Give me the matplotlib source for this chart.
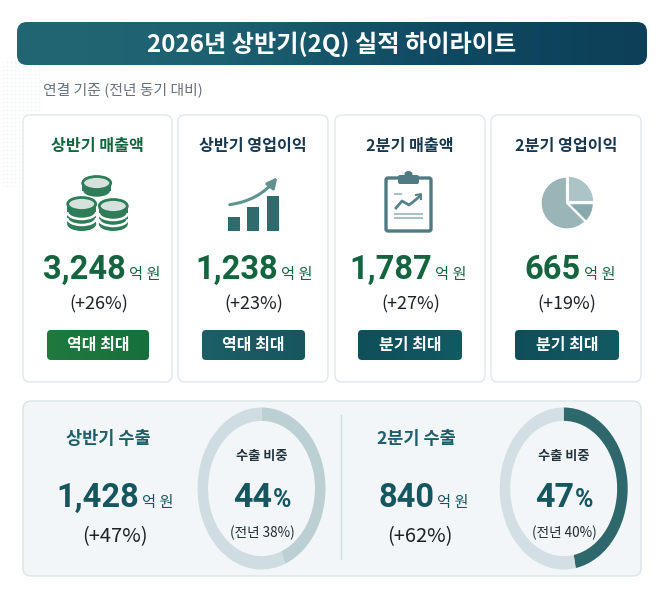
"""2026 first half (2Q) results highlight card"""
import numpy as np
from matplotlib import pyplot as plt
from matplotlib.colors import LinearSegmentedColormap
from matplotlib.patches import Arc, Ellipse, FancyArrowPatch, FancyBboxPatch, Rectangle

plt.rcParams['font.family'] = ['Noto Sans CJK KR', 'DejaVu Sans']

W, H = 662, 597

TITLE = '2026년 상반기(2Q) 실적 하이라이트'
SUBTITLE = '연결 기준 (전년 동기 대비)'
UNIT = '억 원'

card_titles = ['상반기 매출액', '상반기 영업이익', '2분기 매출액', '2분기 영업이익']
card_values = ['3,248', '1,238', '1,787', '665']
card_growth = ['(+26%)', '(+23%)', '(+27%)', '(+19%)']
card_badges = ['역대 최대', '역대 최대', '분기 최대', '분기 최대']

export_titles = ['상반기 수출', '2분기 수출']
export_values = ['1,428', '840']
export_growth = ['(+47%)', '(+62%)']
export_share = [44, 47]
export_share_prev = ['(전년 38%)', '(전년 40%)']

icon_bars = [14, 24, 35]
icon_pie = [25, 12.5, 62.5]

GREEN = '#14653f'
NAVY = '#17384f'
TEAL = '#17565f'
NUM_FONT = ['Roboto', 'Noto Sans CJK KR']


def box(ax, x0, y0, x1, y1, rad, **kw):
    p = FancyBboxPatch((x0 + rad, y0 + rad), x1 - x0 - 2 * rad, y1 - y0 - 2 * rad,
                       boxstyle='round,pad=%f,rounding_size=%f' % (rad, rad), **kw)
    ax.add_patch(p)
    return p


def gradient_box(ax, x0, y0, x1, y1, rad, colors):
    p = box(ax, x0, y0, x1, y1, rad, facecolor='none', edgecolor='none')
    cmap = LinearSegmentedColormap.from_list('bar', colors)
    im = ax.imshow(np.linspace(0, 1, 256).reshape(1, -1), extent=(x0, x1, y1, y0),
                   cmap=cmap, aspect='auto', zorder=1.5)
    im.set_clip_path(p)


def value_text(ax, right, base, value, color, size=23.5, unit_size=11):
    ax.text(right, base, value, ha='right', va='baseline', fontsize=size, fontweight='bold',
            color=color, family=NUM_FONT, zorder=3)
    ax.text(right + 3, base, UNIT, ha='left', va='baseline', fontsize=unit_size,
            fontweight='medium', color=color, zorder=3)


def coins(ax, cx, top, bottom, bands, z):
    green = '#2f7d58'
    rx, ry = 14.5, 7
    for pad, color in ((1.8, 'white'), (0, green)):
        ax.add_patch(Rectangle((cx - rx - pad, top), 2 * (rx + pad), bottom - top, facecolor=color,
                               edgecolor='none', zorder=z))
        ax.add_patch(Ellipse((cx, bottom), 2 * (rx + pad), 2 * (ry + pad), facecolor=color,
                             edgecolor='none', zorder=z))
    for y in bands:
        ax.add_patch(Arc((cx, y), 2 * rx, 2 * ry, theta1=0, theta2=180, edgecolor='white',
                         linewidth=1.8, zorder=z))
    ax.add_patch(Ellipse((cx, top), 2 * rx - 1, 2 * ry - 1, facecolor='#d5e2dc', edgecolor=green,
                         linewidth=2, zorder=z))


def clipboard(ax):
    c = '#4f7c84'
    box(ax, 386, 178, 431, 231, 2, facecolor='white', edgecolor=c, linewidth=2.4, zorder=3)
    box(ax, 398, 175, 419, 184, 2, facecolor=c, edgecolor='none', zorder=4)
    ax.add_patch(Ellipse((408.5, 174), 8, 6, facecolor=c, edgecolor='none', zorder=3))
    ax.plot([396, 402, 409, 413, 420], [208, 201, 205, 202, 196], color='#55838a', lw=2, zorder=4)
    ax.plot([416, 421, 421], [195, 194, 199], color='#55838a', lw=1.5, zorder=4)
    for y in (214, 218):
        ax.plot([395, 403], [y, y], color='#a9c1c4', lw=1.5, zorder=4)
        ax.plot([405, 422], [y, y], color='#a9c1c4', lw=1.5, zorder=4)
    ax.plot([395, 401], [194, 194], color='#a9c1c4', lw=1.5, zorder=4)


def ring(fig, cx, cy, rx, ry, share, colors):
    a = fig.add_axes([(cx - rx) / W, 1 - (cy + ry) / H, 2 * rx / W, 2 * ry / H])
    a.patch.set_alpha(0)
    a.pie([share, 100 - share], colors=colors, startangle=90, counterclock=False,
          radius=1, wedgeprops=dict(width=0.165, linewidth=0))
    a.set_aspect('auto')
    a.set_xlim(-1, 1)
    a.set_ylim(-1, 1)
    a.set_axis_off()


fig = plt.figure(figsize=(W / 100, H / 100), dpi=100, facecolor='white')
ax = fig.add_axes([0, 0, 1, 1])
ax.patch.set_alpha(0)

# faint dotted texture at the left
gx, gy = np.meshgrid(np.arange(3, 42, 4), np.arange(62, 190, 4))
ax.scatter(gx, gy, s=1.5, color='#e6ecee', linewidths=0, alpha=0.55, zorder=0.5)

# title bar
gradient_box(ax, 17, 22, 647, 65, 10, ['#236673', '#1d6070', '#0f4a62', '#0d3f58'])
ax.text(332, 44.5, TITLE, ha='center', va='center', fontsize=17.4, fontweight='bold', color='white', zorder=3)
ax.text(43, 90, SUBTITLE, ha='left', va='center', fontsize=10.7, color='#66727c')

# top cards
card_x = [(23, 172), (178, 328), (335, 485), (491, 641)]
value_right = [126, 278, 432, 581]
badge_x = [(47, 149), (202, 305), (358, 462), (515, 619)]
badge_colors = [['#1f7a3e', '#17703c'], ['#1c5f66', '#17565f'], ['#0f4f5a', '#125a62'], ['#0f4f5a', '#125a62']]
title_colors = [GREEN, NAVY, NAVY, NAVY]

for i, (x0, x1) in enumerate(card_x):
    box(ax, x0, 115, x1, 382, 7, facecolor='white', edgecolor='#e2e8ec', linewidth=1, zorder=1)
    cx = (x0 + x1) / 2
    ax.text(cx, 145.5, card_titles[i], ha='center', va='center', fontsize=11.6, fontweight='bold',
            color=title_colors[i], zorder=3)
    value_text(ax, value_right[i], 279, card_values[i], GREEN)
    ax.text(cx + 1, 304, card_growth[i], ha='center', va='center', fontsize=13, color='#1c2226', zorder=3)
    bx0, bx1 = badge_x[i]
    gradient_box(ax, bx0, 330, bx1, 360, 4, badge_colors[i])
    ax.text((bx0 + bx1) / 2, 345, card_badges[i], ha='center', va='center', fontsize=11.5,
            fontweight='bold', color='white', zorder=3)

# card icons
coins(ax, 96.7, 183, 192, [191], 3)
coins(ax, 113.3, 206, 224, [213, 219], 3.1)
coins(ax, 81.7, 204, 224, [212, 218], 3.2)

for bar_x, height in zip([228, 247, 267], icon_bars):
    ax.bar(bar_x, -height, width=12, bottom=231, align='edge', color='#2f6b6d', zorder=3)
ax.add_patch(FancyArrowPatch((227, 205), (279, 175), connectionstyle='arc3,rad=0.22', arrowstyle='-|>',
                             mutation_scale=15, color='#5f9290', lw=2.2, zorder=3))
clipboard(ax)

pie_ax = fig.add_axes([538 / W, 1 - 232 / H, 58 / W, 58 / H])
pie_ax.patch.set_alpha(0)
pie_ax.pie(icon_pie, colors=['#adc4c6', '#87a8ac', '#9ab5b8'], startangle=90, counterclock=False,
           explode=[0.05, 0.02, 0], radius=1,
           wedgeprops=dict(linewidth=1.5, edgecolor='white'))
pie_ax.set_xlim(-1.1, 1.1)
pie_ax.set_ylim(-1.1, 1.1)
pie_ax.set_axis_off()

# bottom panel
box(ax, 23, 401, 641, 576, 8, facecolor='#f2f6f8', edgecolor='#dbe4e8', linewidth=1, zorder=1)
ax.plot([340.5, 340.5], [415, 559], color='#d4dde1', lw=1, zorder=2)

title_cx = [108.5, 416]
growth_cx = [115, 420]
export_right = [139, 434]
ring_cx = [261.5, 563.7]
ring_colors = [['#bccfd2', '#cfdde0'], ['#2f686c', '#d3dfe2']]

for i in range(2):
    ax.text(title_cx[i], 439, export_titles[i], ha='center', va='center', fontsize=12.6, fontweight='bold',
            color='#1f5f6b', zorder=3)
    value_text(ax, export_right[i], 507, export_values[i], TEAL)
    ax.text(growth_cx[i], 536.5, export_growth[i], ha='center', va='center', fontsize=14.5, color='#1c2226', zorder=3)
    ring(fig, ring_cx[i], 488.5, 64, 81, export_share[i], ring_colors[i])
    rc = ring_cx[i]
    ax.text(rc, 456, '수출 비중', ha='center', va='center', fontsize=9.5, fontweight='bold', color='#24343b', zorder=3)
    ax.text(rc + 10.5, 507, str(export_share[i]), ha='right', va='baseline', fontsize=24.5, fontweight='bold',
            color=TEAL, family=NUM_FONT, zorder=3)
    ax.text(rc + 11, 507, '%', ha='left', va='baseline', fontsize=18, fontweight='bold', color=TEAL,
            family=NUM_FONT, zorder=3)
    ax.text(rc + 1, 533, export_share_prev[i], ha='center', va='center', fontsize=9.8, color='#1e2c33', zorder=3)

ax.set_xlim(0, W)
ax.set_ylim(H, 0)
ax.set_axis_off()

fig.savefig('out.png', dpi=100)
